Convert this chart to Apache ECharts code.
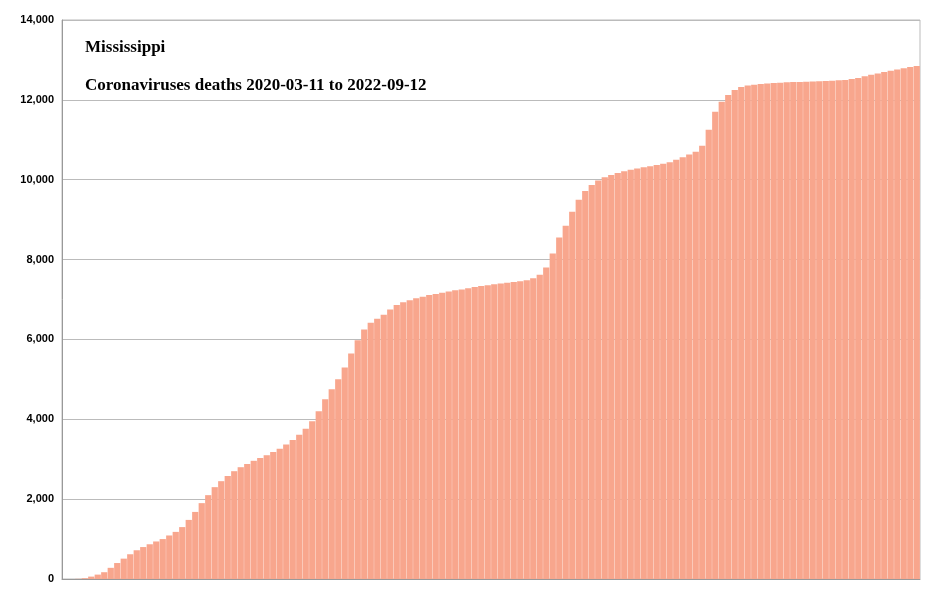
<!DOCTYPE html>
<html>
<head>
<meta charset="utf-8">
<script src="https://cdn.jsdelivr.net/npm/echarts@6/dist/echarts.min.js"></script>
<style>html,body{margin:0;padding:0;background:#fff}#main{width:947px;height:606px}</style>
</head>
<body>
<div id="main"></div>
<script>
// weekly cumulative deaths
var deaths = [0,0,5,20,60,110,170,280,400,510,620,720,800,870,940,1000,1090,1180,1300,1480,
  1680,1900,2100,2300,2450,2580,2700,2800,2880,2960,3030,3100,3180,3260,3370,3480,3610,3760,3950,4200,
  4500,4750,5000,5300,5650,5980,6250,6420,6520,6620,6750,6860,6930,6980,7030,7070,7110,7140,7170,7200,
  7230,7250,7280,7310,7340,7360,7380,7400,7420,7440,7460,7480,7530,7620,7800,8150,8550,8850,9200,9500,
  9720,9870,9980,10060,10120,10170,10210,10250,10280,10310,10340,10370,10400,10440,10500,10560,10630,10700,10850,11250,
  11700,11950,12120,12250,12320,12360,12380,12400,12410,12420,12430,12440,12445,12450,12455,12460,12465,12470,12480,12490,
  12500,12520,12550,12590,12630,12660,12700,12730,12760,12790,12820,12850];
var weeks = deaths.map(function (v, i) { return 'W' + (i + 1); });
var yTicks = [0, 2000, 4000, 6000, 8000, 10000, 12000, 14000];

var chart = echarts.init(document.getElementById('main'));
chart.setOption({
    animation: false,
    grid: {left: 62, right: 27, top: 20, bottom: 27, show: true, borderColor: '#bbb', borderWidth: 1},
    title: [
        {text: 'Mississippi', left: 80, top: 34,
         textStyle: {fontFamily: 'Liberation Serif', fontSize: 17, fontWeight: 'bold', color: '#000'}},
        {text: 'Coronaviruses deaths 2020-03-11 to 2022-09-12', left: 80, top: 72,
         textStyle: {fontFamily: 'Liberation Serif', fontSize: 17, fontWeight: 'bold', color: '#000'}}
    ],
    xAxis: {
        type: 'category', data: weeks,
        axisLabel: {show: false}, axisTick: {show: false},
        axisLine: {lineStyle: {color: '#999'}}
    },
    yAxis: {
        type: 'value', min: 0, max: yTicks[yTicks.length - 1], interval: 2000,
        axisLine: {show: true, lineStyle: {color: '#999'}},
        axisLabel: {fontFamily: 'Liberation Sans', fontSize: 11, fontWeight: 'bold', color: '#000',
            formatter: function (v) { return v.toLocaleString('en-US'); }},
        splitLine: {lineStyle: {color: '#bbb'}}
    },
    series: [{
        type: 'bar', data: deaths, barCategoryGap: '4%',
        itemStyle: {color: '#f8a68d'}
    }]
});
</script>
</body>
</html>
